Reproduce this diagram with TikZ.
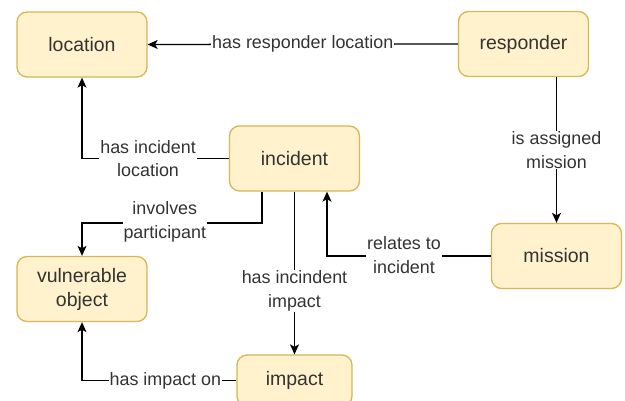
\documentclass[tikz,border=0pt]{standalone}
\usepackage{fontspec}
\setmainfont{Liberation Sans}
\usetikzlibrary{arrows.meta}
\definecolor{boxfill}{HTML}{FFF2CC}
\definecolor{boxdraw}{HTML}{D6B656}
\definecolor{txt}{HTML}{333333}
\begin{document}
\begin{tikzpicture}[x=1pt,y=-1pt,
  entity/.style={draw=boxdraw, fill=boxfill, line width=1.3pt, rounded corners=10pt,
    minimum width=130pt, minimum height=65pt, inner sep=0pt, align=center,
    text=txt, font=\fontsize{19.5}{24}\selectfont},
  lbl/.style={fill=white, inner sep=1pt, align=center, text=txt,
    font=\fontsize{17.9}{23.5}\selectfont},
  arr/.style={draw=black, line width=1.3pt, -{Stealth[length=10pt,width=9pt,inset=2.5pt]}}]
\useasboundingbox (0,0) rectangle (625,401);
\node[entity] (loc) at (82,44.5) {location};
\node[entity] (resp) at (523.5,44) {responder};
\node[entity] (inc) at (294.5,158.5) {incident};
\node[entity] (mis) at (556.5,256) {mission};
\node[entity] (vul) at (82,289) {vulnerable\\object};
\node[entity, minimum width=115pt, minimum height=51pt] (imp) at (294.5,380.5) {impact};

\coordinate (c1) at (262,223);
\draw[arr] (resp.west) -- node[lbl] {has responder location} (loc.east);
\draw[arr] (inc.west) -| node[lbl, pos=0.275] {has incident\\location} (loc.south);
\draw[arr] (mis.north |- resp.south) -- node[lbl] {is assigned\\mission} (mis.north);
\draw[arr] (mis.west) -| node[lbl, pos=0.265, yshift=1pt] {relates to\\incident} ([xshift=32.5pt]inc.south);
\draw[arr] (c1 |- inc.south) -- (c1) -| node[lbl, pos=0.27, yshift=1pt] {involves\\participant} (vul.north);
\draw[arr] (inc.south) -- node[lbl, pos=0.61] {has incindent\\impact} (imp.north);
\draw[arr] (imp.west) -| node[lbl, pos=0.23] {has impact on} (vul.south);
\end{tikzpicture}
\end{document}
